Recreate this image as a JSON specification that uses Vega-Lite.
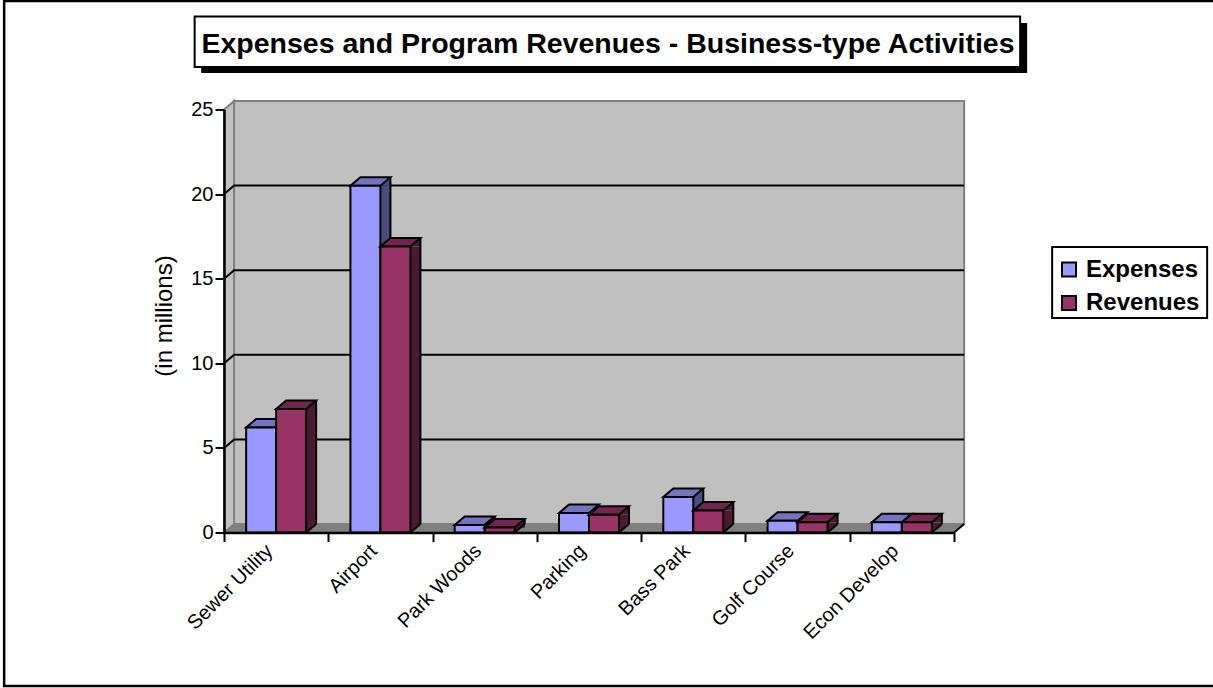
{
"$schema":"https://vega.github.io/schema/vega-lite/v6.json",
"width":730,"height":432,
"autosize":{"type":"none"},
"padding":{"left":224,"top":100.5,"right":259,"bottom":155.5},
"background":"white",
"view":{"stroke":null},
"config":{"font":"Liberation Sans"},
"title":{"text":"Expenses and Program Revenues - Business-type Activities","font":"Liberation Sans","fontSize":28.5,"fontWeight":"bold","color":"black","anchor":"middle","dx":19,"offset":-91,"baseline":"bottom","zindex":1},
"datasets":{
"bars":[
{"category":"Sewer Utility","series":"Expenses","value":6.2},
{"category":"Sewer Utility","series":"Revenues","value":7.3},
{"category":"Airport","series":"Expenses","value":20.5},
{"category":"Airport","series":"Revenues","value":16.9},
{"category":"Park Woods","series":"Expenses","value":0.45},
{"category":"Park Woods","series":"Revenues","value":0.3},
{"category":"Parking","series":"Expenses","value":1.15},
{"category":"Parking","series":"Revenues","value":1.05},
{"category":"Bass Park","series":"Expenses","value":2.1},
{"category":"Bass Park","series":"Revenues","value":1.3},
{"category":"Golf Course","series":"Expenses","value":0.7},
{"category":"Golf Course","series":"Revenues","value":0.6},
{"category":"Econ Develop","series":"Expenses","value":0.6},
{"category":"Econ Develop","series":"Revenues","value":0.6}
],
"anchor":[{"category":"Sewer Utility","value":0}],
"grid":[{"category":"Sewer Utility","value":5},{"category":"Sewer Utility","value":10},{"category":"Sewer Utility","value":15},{"category":"Sewer Utility","value":20}]
},
"data":{"name":"bars"},
"encoding":{
"x":{"field":"category","type":"nominal","sort":null,"title":null,
"scale":{"domain":["Sewer Utility","Airport","Park Woods","Parking","Bass Park","Golf Course","Econ Develop"],"range":[0,730],"paddingInner":0,"paddingOuter":0},
"axis":{"tickBand":"extent","labelAngle":-45,"labelAlign":"right","labelBaseline":"middle","labelFontSize":20,"labelColor":"black","labelPadding":6,"labelOffset":-7,"tickColor":"black","tickWidth":2,"tickSize":9,"domainColor":"black","domainWidth":2.5,"grid":false,"labelLimit":300,"zindex":1}},
"y":{"field":"value","type":"quantitative","title":"(in millions)",
"scale":{"domain":[0,25],"range":[432,9],"nice":false},
"axis":{"values":[0,5,10,15,20,25],"labelFontSize":20,"labelColor":"black","labelFontWeight":"normal","labelPadding":2,"tickColor":"black","tickWidth":2,"tickSize":9,"domainColor":"black","domainWidth":2.5,"grid":false,"titleFontSize":24,"titleFontWeight":"normal","titleColor":"black","titlePadding":14,"titleY":215,"zindex":1}}
},
"layer":[
{"data":{"name":"anchor"},"mark":{"type":"point","size":4,"filled":false,"stroke":"black","strokeWidth":2.5,"opacity":1,"shape":"M-272 -531.5L940 -531.5L940 153.5L-272 153.5Z"}},
{"data":{"name":"anchor"},"mark":{"type":"point","size":4,"filled":true,"fill":"black","opacity":1,"shape":"M-75 -509.5L751 -509.5L751 -459.5L-75 -459.5Z"}},
{"data":{"name":"anchor"},"mark":{"type":"point","size":4,"filled":true,"fill":"white","stroke":"black","strokeWidth":2,"opacity":1,"shape":"M-81.5 -516L744 -516L744 -465.5L-81.5 -465.5Z"}},
{"data":{"name":"anchor"},"mark":{"type":"point","size":4,"filled":true,"fill":"white","stroke":"black","strokeWidth":2,"opacity":1,"shape":"M776 -285.5L931 -285.5L931 -214.5L776 -214.5Z"}},
{"data":{"name":"anchor"},"mark":{"type":"point","size":4,"filled":true,"fill":"#c0c0c0","stroke":"#808080","strokeWidth":2,"opacity":1,"shape":"M-52 0L-42 -8.5L-42 -431.5L-52 -423Z"}},
{"data":{"name":"anchor"},"mark":{"type":"point","size":4,"filled":true,"fill":"#c0c0c0","stroke":"#808080","strokeWidth":2,"opacity":1,"shape":"M-42 -431.5L688 -431.5L688 -8.5L-42 -8.5Z"}},
{"data":{"name":"anchor"},"mark":{"type":"point","size":4,"filled":true,"fill":"#808080","opacity":1,"shape":"M-52 0L-42 -8.5L688 -8.5L678 0Z"}},
{"data":{"name":"anchor"},"mark":{"type":"point","size":4,"filled":false,"stroke":"black","strokeWidth":2,"opacity":1,"shape":"M678 0L688 -8.5"}},
{"data":{"name":"grid"},"mark":{"type":"point","size":4,"filled":false,"stroke":"black","strokeWidth":2,"opacity":1,"shape":"M-52 0L-42 -8.5L688 -8.5"}},

{"transform":[{"filter":"datum.series==='Expenses'"}],"mark":{"type":"bar","width":10,"xOffset":5,"y2Offset":-8.5,"fill":"#4c4c7f"},"encoding":{"y":{"field":"value","type":"quantitative","stack":null},"y2":{"datum":0}}},
{"transform":[{"filter":"datum.series==='Expenses'"}],"mark":{"type":"point","size":4,"filled":true,"fill":"#4c4c7f","opacity":1,"shape":"M0 0L10 0L10 -8.5Z"}},
{"transform":[{"filter":"datum.series==='Expenses'"}],"mark":{"type":"point","size":4,"filled":true,"fill":"#4c4c7f","opacity":1,"shape":"M0 0L0 -8.5L10 -8.5Z"},"encoding":{"y":{"datum":0,"type":"quantitative"}}},
{"transform":[{"filter":"datum.series==='Expenses'"}],"mark":{"type":"point","size":4,"filled":false,"stroke":"black","strokeWidth":2,"opacity":1,"shape":"M0 0L10 -8.5"},"encoding":{"y":{"datum":0,"type":"quantitative"}}},
{"transform":[{"filter":"datum.series==='Expenses'"}],"mark":{"type":"rule","xOffset":10,"yOffset":-8.5,"y2Offset":-8.5,"stroke":"black","strokeWidth":2},"encoding":{"y2":{"datum":0}}},
{"transform":[{"filter":"datum.series==='Expenses'"}],"mark":{"type":"point","size":4,"filled":true,"fill":"#7373bf","stroke":"black","strokeWidth":2,"opacity":1,"shape":"M-30 0L0 0L10 -8.5L-20 -8.5Z"}},
{"transform":[{"filter":"datum.series==='Expenses'"}],"mark":{"type":"bar","width":30,"xOffset":-15,"stroke":"black","strokeWidth":2},"encoding":{"y":{"field":"value","type":"quantitative","stack":null},"color":{"field":"series","type":"nominal","scale":{"domain":["Expenses","Revenues"],"range":["#9999ff","#993366"]},"legend":{"title":null,"orient":"none","legendX":833,"legendY":157,"symbolType":"square","symbolSize":196,"symbolStrokeColor":"black","symbolStrokeWidth":2,"labelFontSize":24,"labelFontWeight":"bold","labelColor":"black","rowPadding":9.5,"labelOffset":5,"padding":0}}}},

{"transform":[{"filter":"datum.series==='Revenues'"}],"mark":{"type":"bar","width":10,"xOffset":35,"y2Offset":-8.5,"fill":"#4c1933"},"encoding":{"y":{"field":"value","type":"quantitative","stack":null},"y2":{"datum":0}}},
{"transform":[{"filter":"datum.series==='Revenues'"}],"mark":{"type":"point","size":4,"filled":true,"fill":"#4c1933","opacity":1,"shape":"M30 0L40 0L40 -8.5Z"}},
{"transform":[{"filter":"datum.series==='Revenues'"}],"mark":{"type":"point","size":4,"filled":true,"fill":"#4c1933","opacity":1,"shape":"M30 0L30 -8.5L40 -8.5Z"},"encoding":{"y":{"datum":0,"type":"quantitative"}}},
{"transform":[{"filter":"datum.series==='Revenues'"}],"mark":{"type":"point","size":4,"filled":false,"stroke":"black","strokeWidth":2,"opacity":1,"shape":"M30 0L40 -8.5"},"encoding":{"y":{"datum":0,"type":"quantitative"}}},
{"transform":[{"filter":"datum.series==='Revenues'"}],"mark":{"type":"rule","xOffset":40,"yOffset":-8.5,"y2Offset":-8.5,"stroke":"black","strokeWidth":2},"encoding":{"y2":{"datum":0}}},
{"transform":[{"filter":"datum.series==='Revenues'"}],"mark":{"type":"point","size":4,"filled":true,"fill":"#73264d","stroke":"black","strokeWidth":2,"opacity":1,"shape":"M0 0L30 0L40 -8.5L10 -8.5Z"}},
{"transform":[{"filter":"datum.series==='Revenues'"}],"mark":{"type":"bar","width":30,"xOffset":15,"stroke":"black","strokeWidth":2},"encoding":{"y":{"field":"value","type":"quantitative","stack":null},"color":{"field":"series","type":"nominal","scale":{"domain":["Expenses","Revenues"],"range":["#9999ff","#993366"]},"legend":{"title":null,"orient":"none","legendX":833,"legendY":157,"symbolType":"square","symbolSize":196,"symbolStrokeColor":"black","symbolStrokeWidth":2,"labelFontSize":24,"labelFontWeight":"bold","labelColor":"black","rowPadding":9.5,"labelOffset":5,"padding":0}}}}
]
}
